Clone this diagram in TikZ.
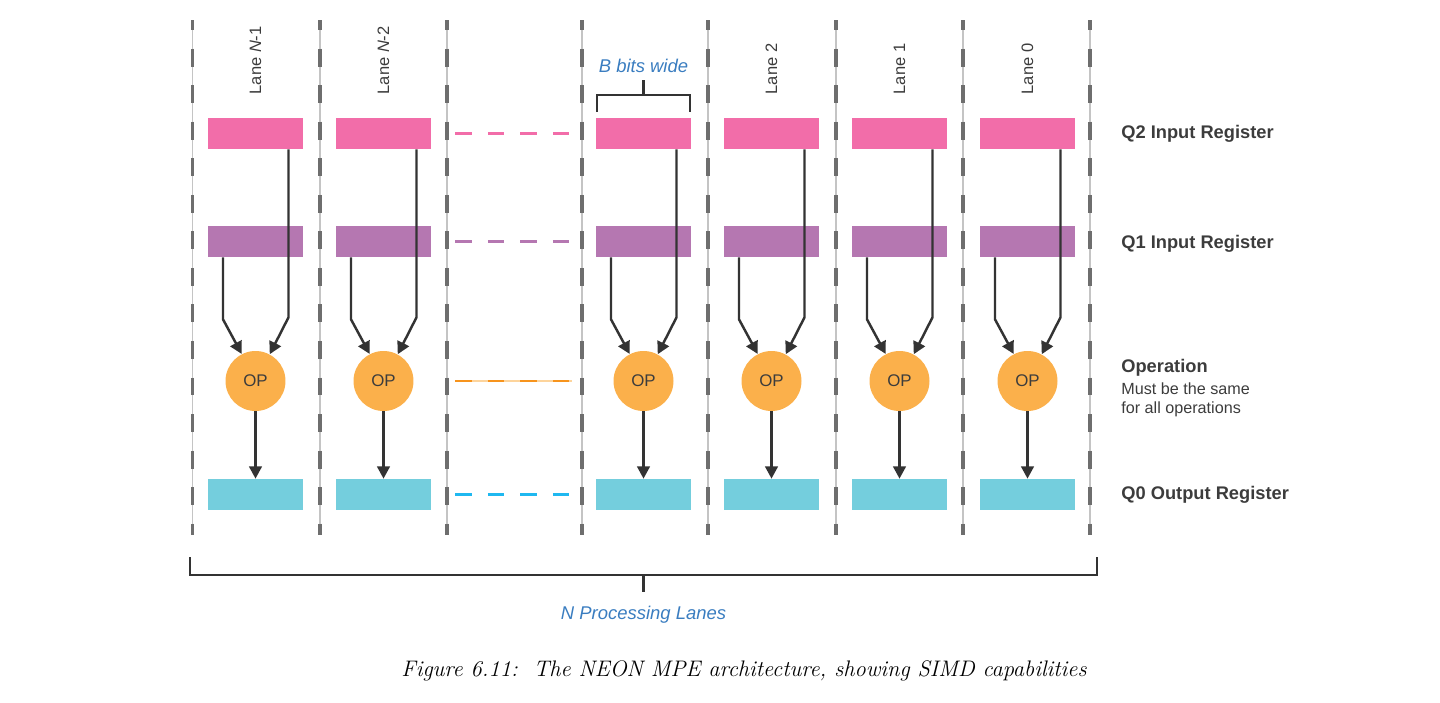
\documentclass[tikz,border=0pt]{standalone}
\usepackage{fontspec}
\setsansfont{Liberation Sans}
\usetikzlibrary{calc,arrows.meta}
\definecolor{qtwo}{HTML}{F26DA9}
\definecolor{qone}{HTML}{B577B1}
\definecolor{qzero}{HTML}{74CEDD}
\definecolor{opfill}{HTML}{FBB04B}
\definecolor{gapcyan}{HTML}{1FB8F0}
\definecolor{gaporange}{HTML}{F7941D}
\definecolor{inkdark}{HTML}{333333}
\definecolor{txtdark}{HTML}{3C3C3C}
\definecolor{txtblue}{HTML}{3A7DC0}
\definecolor{sepdark}{HTML}{6E6E6E}
\definecolor{seplight}{HTML}{C4C4C4}

\begin{document}
\begin{tikzpicture}[x=0.02cm,y=-0.02cm,
	reg/.style={inner sep=0,minimum width=1.9cm,minimum height=0.62cm},
	opnode/.style={circle,fill=opfill,inner sep=0,minimum size=1.2cm,text=txtdark,
		font=\sffamily\fontsize{9.6}{11}\selectfont},
	flow/.style={draw=inkdark,line width=1.4pt,-{Triangle[length=7pt,width=7.2pt]}},
	lanelbl/.style={rotate=90,anchor=west,inner sep=0,text=txtdark,
		font=\sffamily\fontsize{9.4}{11}\selectfont},
	sidelbl/.style={anchor=base west,inner sep=0,text=txtdark,
		font=\sffamily\bfseries\fontsize{10.4}{12}\selectfont},
	sidenote/.style={anchor=base west,inner sep=0,text=txtdark,
		font=\sffamily\fontsize{9.2}{11}\selectfont},
	bluelbl/.style={inner sep=0,text=txtblue,font=\sffamily\itshape\fontsize{10.5}{12}\selectfont},
	gapline/.style={line width=1.5pt,dash pattern=on 9.4pt off 9.1pt}]
	\useasboundingbox (0,0) rectangle (1440,703);
	% lane separators
	\foreach \sx in {192.5,320,447,582,708,836,963,1090} {
		\draw[seplight,line width=1pt] (\sx,20) -- (\sx,535);
		\draw[sepdark,line width=2pt,dash pattern=on 10.2pt off 10.6pt,dash phase=4.5pt] (\sx,20) -- (\sx,535);
	}
	% registers and operations
	\foreach \id/\cx in {a/255.5,b/383.5,c/643.5,d/771.5,e/899.5,f/1027.5} {
		\node[reg,fill=qtwo] (q2\id) at (\cx,133.5) {};
		\node[reg,fill=qone] (q1\id) at (\cx,241.5) {};
		\node[opnode] (op\id) at (\cx,381) {OP};
		\node[reg,fill=qzero] (q0\id) at (\cx,494.5) {};
	}
	\foreach \id in {a,b,c,d,e,f} {
		\draw[flow] ($(q2\id.south)+(33,0)$) -- ($(q2\id.south)+(33,168)$) -- (op\id.62);
		\draw[flow] ($(q1\id.south)+(-32.5,0)$) -- ($(q1\id.south)+(-32.5,62)$) -- (op\id.117);
		\draw[flow] (op\id) -- (q0\id);
	}
	\foreach \id/\lab in {a/{Lane \textit{N}-1},b/{Lane \textit{N}-2},d/{Lane 2},e/{Lane 1},f/{Lane 0}}
		\node[lanelbl] (lane\id) at ($(q2\id.north)+(0,-23)$) {\lab};
	% gap between lanes
	\draw[gapline,draw=qtwo] ($(q2b.east)+(24,0)$) -- ($(q2c.west)+(-26,0)$);
	\draw[gapline,draw=qone] ($(q1b.east)+(24,0)$) -- ($(q1c.west)+(-26,0)$);
	\draw[opfill!55,line width=1pt] ($(opb.east)+(41.5,0)$) -- ($(opc.west)+(-41.5,0)$);
	\draw[gapline,draw=gaporange] ($(opb.east)+(41.5,0)$) -- ($(opc.west)+(-43.5,0)$);
	\draw[gapline,draw=gapcyan] ($(q0b.east)+(24,0)$) -- ($(q0c.west)+(-26,0)$);
	% B bits wide
	\node[bluelbl] (bits) at (643.5,66) {B bits wide};
	\draw[inkdark,line width=1.2pt] ($(q2c.north west)+(1,-6)$) -- ($(q2c.north west)+(1,-23)$)
		-- ($(q2c.north east)+(-1,-23)$) -- ($(q2c.north east)+(-1,-6)$);
	\draw[inkdark,line width=1.2pt] ($(q2c.north)+(0,-23)$) -- ($(q2c.north)+(0,-38)$);
	% row labels
	\node[sidelbl] (lq2) at (1121,138) {Q2 Input Register};
	\node[sidelbl] (lq1) at (1121,248) {Q1 Input Register};
	\node[sidelbl] (lop) at (1121,372.5) {Operation};
	\node[sidenote] (lop1) at (1121,394) {Must be the same};
	\node[sidenote] (lop2) at (1121,413) {for all operations};
	\node[sidelbl] (lq0) at (1121,499.5) {Q0 Output Register};
	% N lanes
	\draw[inkdark,line width=1.5pt] (190,557) -- (190,575) -- (1097,575) -- (1097,557);
	\draw[inkdark,line width=1.5pt] (643.5,575) -- (643.5,592);
	\node[bluelbl] (nlanes) at (643.5,615) {N Processing Lanes};
	\node[inner sep=0,font=\itshape\fontsize{12.8}{16}\selectfont] (cap) at (744,671)
		{Figure 6.11:\ \ The NEON MPE architecture, showing SIMD capabilities};
\end{tikzpicture}
\end{document}
